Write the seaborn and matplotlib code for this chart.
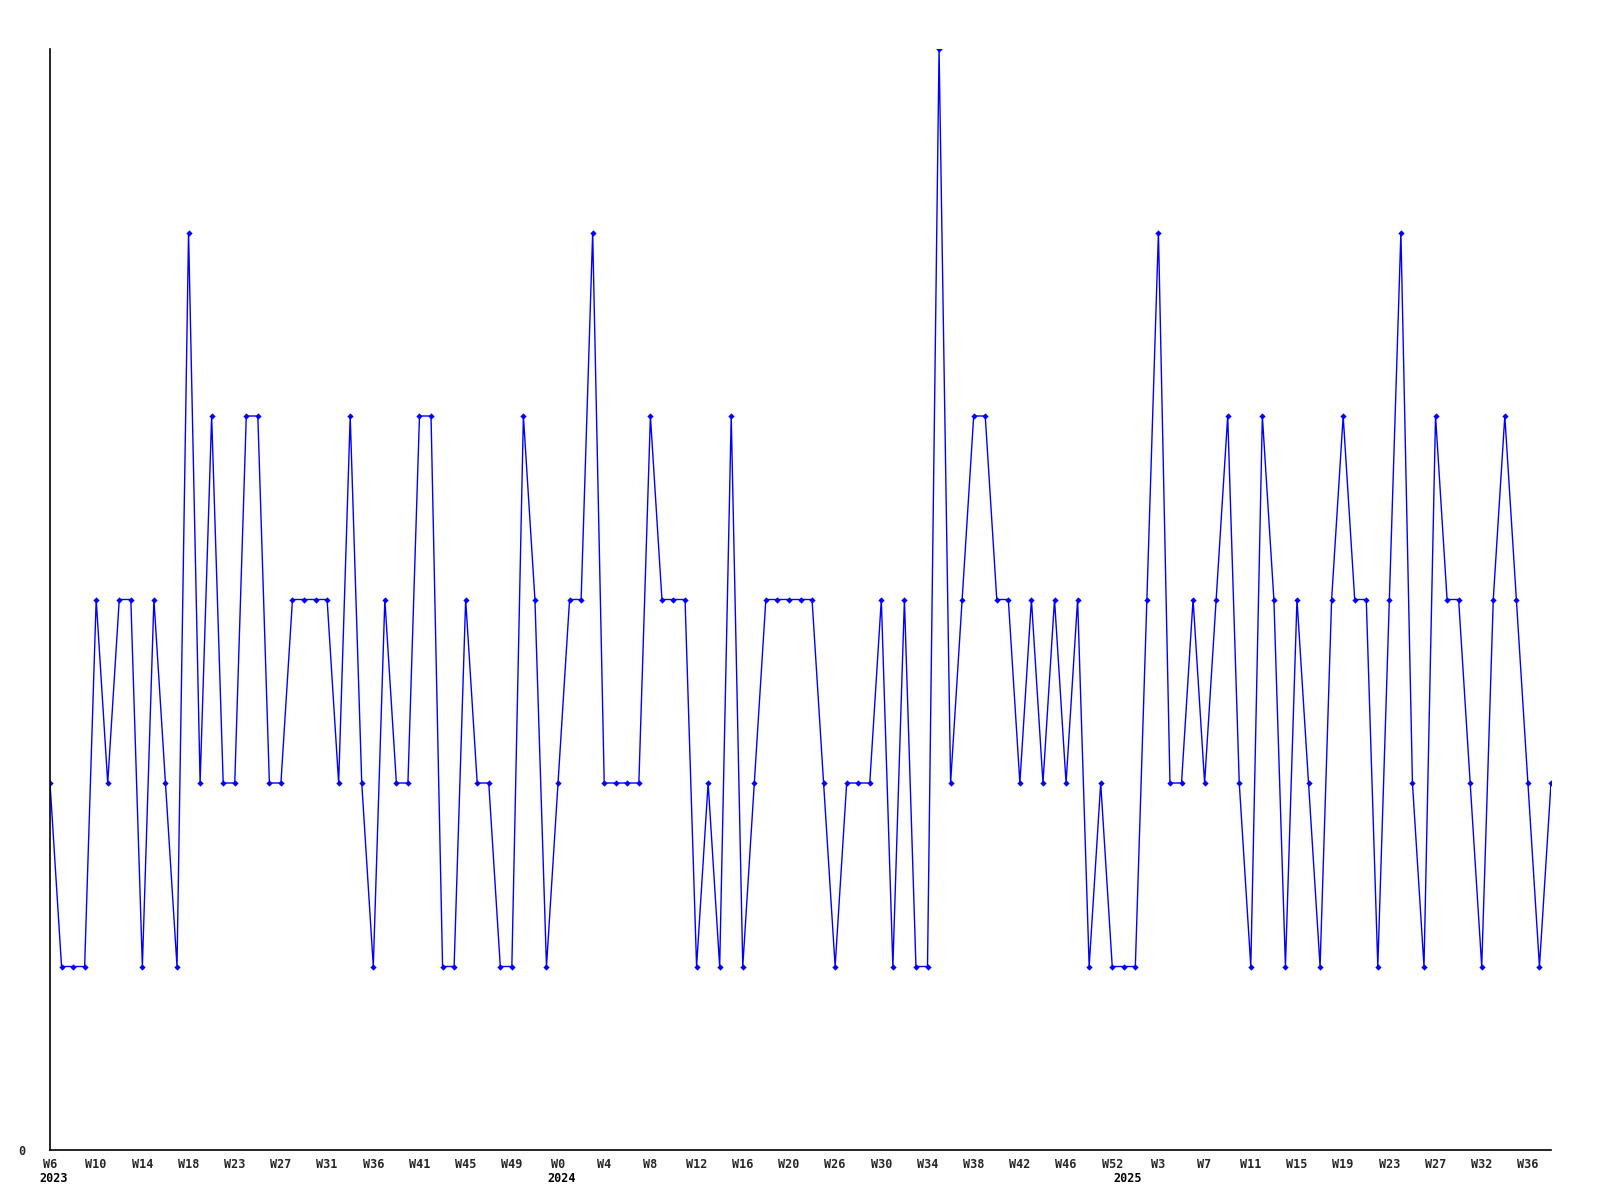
import matplotlib
matplotlib.use("Agg")
import matplotlib.pyplot as plt
import seaborn as sns
import pandas as pd

values = [2, 1, 1, 1, 3, 2, 3, 3, 1, 3, 2, 1, 5, 2, 4, 2, 2, 4, 4, 2,
          2, 3, 3, 3, 3, 2, 4, 2, 1, 3, 2, 2, 4, 4, 1, 1, 3, 2, 2, 1,
          1, 4, 3, 1, 2, 3, 3, 5, 2, 2, 2, 2, 4, 3, 3, 3, 1, 2, 1, 4,
          1, 2, 3, 3, 3, 3, 3, 2, 1, 2, 2, 2, 3, 1, 3, 1, 1, 6, 2, 3,
          4, 4, 3, 3, 2, 3, 2, 3, 2, 3, 1, 2, 1, 1, 1, 3, 5, 2, 2, 3,
          2, 3, 4, 2, 1, 4, 3, 1, 3, 2, 1, 3, 4, 3, 3, 1, 3, 5, 2, 1,
          4, 3, 3, 2, 1, 3, 4, 3, 2, 1, 2]

tick_labels = ["W6", "W10", "W14", "W18", "W23", "W27", "W31", "W36", "W41",
               "W45", "W49", "W0", "W4", "W8", "W12", "W16", "W20", "W26",
               "W30", "W34", "W38", "W42", "W46", "W52", "W3", "W7", "W11",
               "W15", "W19", "W23", "W27", "W32", "W36"]
year_labels = ["2023", "2024", "2025"]
year_index = [0.3, 44.3, 93.3]

df = pd.DataFrame({"idx": range(len(values)), "value": values})

sns.set_style("white")
plt.rcParams['font.family'] = ['DejaVu Sans Mono', 'DejaVu Sans']

fig = plt.figure(figsize=(16, 12), dpi=100)
ax = fig.add_axes([50/1600, 1 - 1150/1200, (1551-50)/1600, (1150-49)/1200])

sns.lineplot(data=df, x="idx", y="value", ax=ax, color="#0000ff",
             linewidth=1.0, marker="D", markersize=3.2, markeredgewidth=0,
             markerfacecolor="#0000ff")

ax.set_xlim(0, len(values) - 1)
ax.set_ylim(0, 6)
ax.set_xlabel("")
ax.set_ylabel("")

ticks = list(range(0, len(values), 4))[:len(tick_labels)]
ax.set_xticks(ticks)
ax.set_xticklabels(tick_labels, fontsize=8.5, fontweight="bold")
ax.set_yticks([0])
ax.set_yticklabels(["0"], fontsize=8.5, fontweight="bold")
ax.tick_params(axis="x", length=0, pad=5.5)
ax.tick_params(axis="y", length=0, pad=18)

for lab, i in zip(year_labels, year_index):
    ax.text(i, -22/1101, lab, transform=ax.get_xaxis_transform(),
            ha="center", va="top", fontsize=8.5, fontweight="bold",
            color="black")

for s in ["top", "right"]:
    ax.spines[s].set_visible(False)
for s in ["left", "bottom"]:
    ax.spines[s].set_color("black")
    ax.spines[s].set_linewidth(1.2)

fig.savefig("out.png", dpi=100, facecolor="white")
